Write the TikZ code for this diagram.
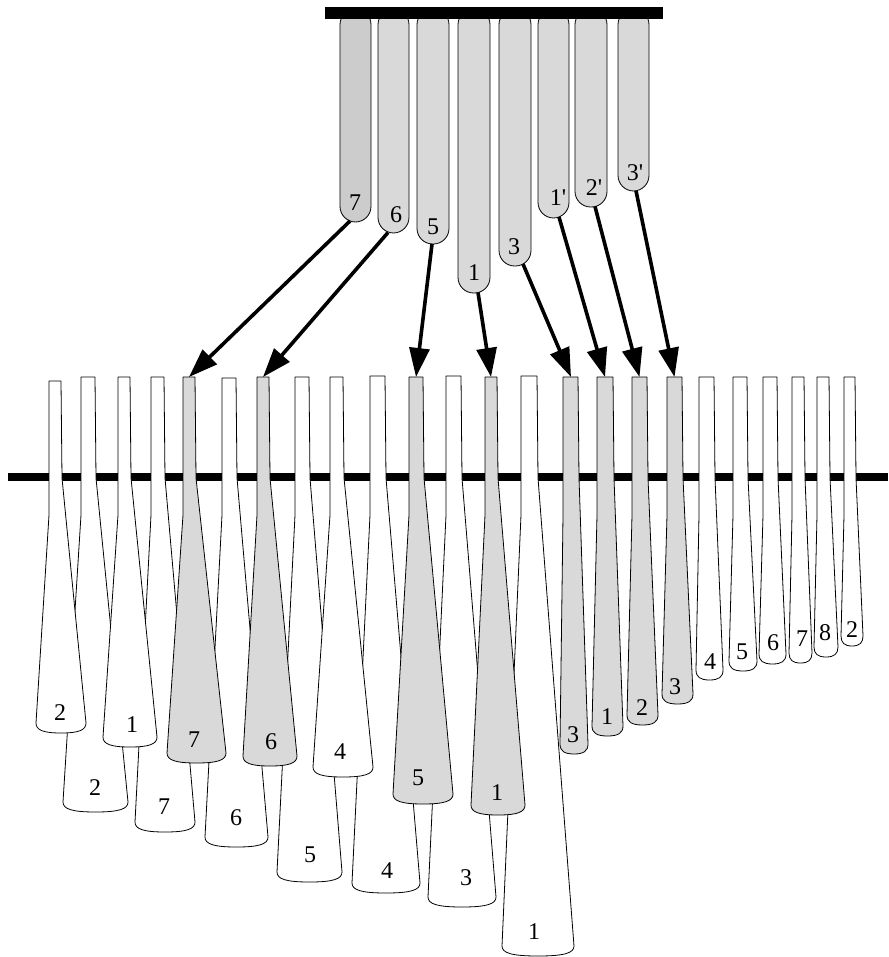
\documentclass[tikz,border=0pt]{standalone}
\usepackage{fontspec}
\setmainfont{Liberation Serif}
\newfontfamily\labelfont{Liberation Serif}
\usetikzlibrary{arrows.meta}

\definecolor{tinegray}{RGB}{217,217,217}
\definecolor{tinedark}{RGB}{204,204,204}

\tikzset{
  tineline/.style={draw=black, line width=0.8pt, line join=round},
  bridge/.style={line width=8pt},
  hangbar/.style={line width=12pt},
  tinelabel/.style={font=\labelfont\fontsize{24}{24}\selectfont, inner sep=0pt},
  hanger/.style={tineline, rounded corners=15.6pt},
  pull/.style={line width=3.6pt, -{Triangle[length=29pt,width=20pt]}}
}

% One tine: fill, top-left x, top-right x, top y, bottom-left x, bottom-right x, corner y.
% Left side runs straight down to y=515, right side bends at the bridge (y=478),
% and the free end is a shallow cap with rounded corners.
\newcommand{\kbtine}[7]{%
  \draw[tineline, fill=#1] (#2,#4) -- (#3,#4) -- ({#3+1},478) -- (#6,#7)
    .. controls (#6,{#7+7}) and ({#6-0.12*(#6-#5)-1},{#7+10}) .. ({(#5+#6)/2},{#7+10})
    .. controls ({#5+0.12*(#6-#5)+1},{#7+10}) and (#5,{#7+7}) .. (#5,#7)
    -- (#2,515) -- cycle;}

\begin{document}
\begin{tikzpicture}[x=1pt, y=-1pt]
\useasboundingbox (0,0) rectangle (888,957);

% bridge bar behind the tines
\draw[bridge] (8,477) -- (888,477);

% long tines (back row)
\kbtine{white}{81}{95}{377}{63}{128}{802}
\kbtine{white}{151}{164}{377}{135}{195}{822}
\kbtine{white}{222}{236}{378}{205}{268}{837}
\kbtine{white}{295}{309}{377}{277}{342}{872}
\kbtine{white}{370}{385}{376}{352}{420}{883}
\kbtine{white}{446}{461}{376}{428}{496}{897}
\kbtine{white}{521}{537}{376}{502}{574}{946}

% short tines (front row)
\kbtine{white}{49}{61}{381}{36}{86}{723}
\kbtine{white}{118}{130}{377}{103}{157}{737}
\kbtine{tinegray}{183}{195}{377}{167}{226}{753}
\kbtine{tinegray}{257}{269}{377}{243}{297}{756}
\kbtine{white}{330}{343}{377}{313}{373}{767}
\kbtine{tinegray}{409}{423}{377}{393}{453}{794}
\kbtine{tinegray}{485}{497}{377}{471}{525}{805}
\kbtine{tinegray}{563}{578}{377}{560}{588}{744}
\kbtine{tinegray}{597}{613}{377}{592}{623}{726}
\kbtine{tinegray}{632}{647}{377}{627}{658}{715}
\kbtine{tinegray}{667}{682}{377}{662}{693}{694}
\kbtine{white}{699}{714}{377}{696}{723}{670}
\kbtine{white}{733}{747}{377}{729}{757}{661}
\kbtine{white}{763}{777}{377}{759}{786}{654}
\kbtine{white}{792}{804}{377}{789}{812}{653}
\kbtine{white}{817}{829}{377}{814}{838}{647}
\kbtine{white}{844}{855}{377}{841}{863}{636}

% tine labels
\node[tinelabel] (l1)  at (60,713)  {2};
\node[tinelabel] (l2)  at (95,788)  {2};
\node[tinelabel] (l3)  at (132,725) {1};
\node[tinelabel] (l4)  at (164,807) {7};
\node[tinelabel] (l5)  at (194,740) {7};
\node[tinelabel] (l6)  at (236,818) {6};
\node[tinelabel] (l7)  at (271,742) {6};
\node[tinelabel] (l8)  at (310,855) {5};
\node[tinelabel] (l9)  at (340,752) {4};
\node[tinelabel] (l10) at (387,871) {4};
\node[tinelabel] (l11) at (418,778) {5};
\node[tinelabel] (l12) at (466,878) {3};
\node[tinelabel] (l13) at (497,793) {1};
\node[tinelabel] (l14) at (534,932) {1};
\node[tinelabel] (l15) at (573,735) {3};
\node[tinelabel] (l16) at (607,717) {1};
\node[tinelabel] (l17) at (642,708) {2};
\node[tinelabel] (l18) at (675,687) {3};
\node[tinelabel] (l19) at (710,662) {4};
\node[tinelabel] (l20) at (742,652) {5};
\node[tinelabel] (l21) at (773,643) {6};
\node[tinelabel] (l22) at (802,639) {7};
\node[tinelabel] (l23) at (825,633) {8};
\node[tinelabel] (l24) at (852,630) {2};

% hanging tines
\draw[hanger, fill=tinedark] (340,9) rectangle (371,222);
\draw[hanger, fill=tinegray] (378,9) rectangle (409,233);
\draw[hanger, fill=tinegray] (417,9) rectangle (449,244);
\draw[hanger, fill=tinegray] (458,9) rectangle (490,293);
\draw[hanger, fill=tinegray] (499,9) rectangle (531,266);
\draw[hanger, fill=tinegray] (538,9) rectangle (569,218);
\draw[hanger, fill=tinegray] (575,9) rectangle (607,207);
\draw[hanger, fill=tinegray] (618,9) rectangle (649,191);

\node[tinelabel] (h7)  at (355,203) {7};
\node[tinelabel] (h6)  at (396,215) {6};
\node[tinelabel] (h5)  at (433,227) {5};
\node[tinelabel] (h1)  at (474,273) {1};
\node[tinelabel] (h3)  at (514,247) {3};
\node[tinelabel] (h1p) at (558,198) {1'};
\node[tinelabel] (h2p) at (594,188) {2'};
\node[tinelabel] (h3p) at (635,173) {3'};

% top bar
\draw[hangbar] (325,13) -- (663,13);

% arrow ends: bottoms of the hanging tines and tops of the grey tines
\coordinate (u7)  at (350,221);
\coordinate (u6)  at (388,232.5);
\coordinate (u5)  at (432,244);
\coordinate (u1)  at (478,292.5);
\coordinate (u3)  at (523,264);
\coordinate (u1p) at (559,217);
\coordinate (u2p) at (595,206.5);
\coordinate (u3p) at (636,190.8);

\coordinate (g7)  at (189,377);
\coordinate (g6)  at (263,377);
\coordinate (g5)  at (416,377);
\coordinate (g1)  at (491,377);
\coordinate (g3)  at (571,377);
\coordinate (g1p) at (605,377);
\coordinate (g2p) at (639.5,377);
\coordinate (g3p) at (674.5,377);

\draw[pull] (u7)  -- (g7);
\draw[pull] (u6)  -- (g6);
\draw[pull] (u5)  -- (g5);
\draw[pull] (u1)  -- (g1);
\draw[pull] (u3)  -- (g3);
\draw[pull] (u1p) -- (g1p);
\draw[pull] (u2p) -- (g2p);
\draw[pull] (u3p) -- (g3p);
\end{tikzpicture}
\end{document}
